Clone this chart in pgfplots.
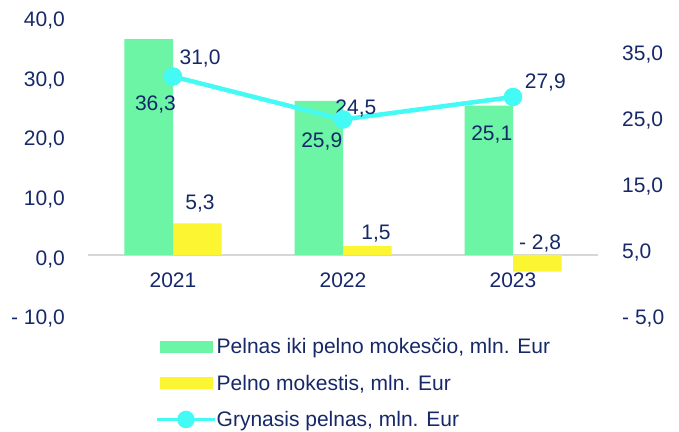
\documentclass[border=0pt]{standalone}
\usepackage{fontspec}
\setmainfont{Liberation Sans}
\usepackage{pgfplots}
\pgfplotsset{compat=1.18}
\definecolor{navyc}{RGB}{22,40,104}
\definecolor{greenc}{RGB}{107,245,164}
\definecolor{yellowc}{RGB}{251,245,50}
\definecolor{cyanc}{RGB}{68,250,245}
\definecolor{zeroc}{RGB}{215,215,215}
\begin{document}
\begin{tikzpicture}[text=navyc, font=\fontsize{21bp}{25bp}\selectfont]
\useasboundingbox (-88bp,-117.5bp) rectangle (591bp,314.5bp);
\pgfplotsset{
  base/.style={
    scale only axis, width=510bp, height=297.5bp,
    xmin=-0.5, xmax=2.5,
    font=\fontsize{21bp}{25bp}\selectfont,
    major tick length=0pt,
    axis line style={draw=none},
    clip=false,
  },
}
\begin{axis}[base,
  ymin=-10, ymax=40,
  ytick={-10,0,10,20,30,40},
  yticklabels={{- 10,0},{0,0},{10,0},{20,0},{30,0},{40,0}},
  yticklabel style={anchor=east, inner sep=0pt, text height=15bp, text depth=0pt, xshift=-23bp, yshift=-2.5bp},
  xtick={0,1,2},
  xticklabels={2021,2022,2023},
  xticklabel style={anchor=north, inner sep=0pt, text height=15bp, text depth=0pt, yshift=42bp},
  ybar=0pt, bar width=48.5bp,
]
\draw[zeroc, line width=1.6bp] (axis cs:-0.5,0) -- (axis cs:2.5,0);
\addplot[fill=greenc, draw=none] coordinates {(0,36.3) (1,25.9) (2,25.1)};
\addplot[fill=yellowc, draw=none] coordinates {(0,5.3) (1,1.5) (2,-2.8)};
\node[text height=15bp, text depth=0pt, inner sep=0pt] at (axis cs:-0.103,25.5) {36,3};
\node[text height=15bp, text depth=0pt, inner sep=0pt] at (axis cs:0.875,19.3) {25,9};
\node[text height=15bp, text depth=0pt, inner sep=0pt] at (axis cs:1.875,20.5) {25,1};
\node[text height=15bp, text depth=0pt, inner sep=0pt] at (axis cs:0.159,8.9) {5,3};
\node[text height=15bp, text depth=0pt, inner sep=0pt] at (axis cs:1.194,3.86) {1,5};
\node[text height=15bp, text depth=0pt, inner sep=0pt] at (axis cs:2.159,2.2) {- 2,8};
\end{axis}
\begin{axis}[base,
  ymin=-5, ymax=40,
  axis x line=none,
  axis y line*=right,
  ytick={-5,5,15,25,35},
  yticklabels={{- 5,0},{5,0},{15,0},{25,0},{35,0}},
  yticklabel style={anchor=west, inner sep=0pt, text height=15bp, text depth=0pt, xshift=24bp, yshift=-2.5bp},
  legend style={at={(rel axis cs:0.1314,-0.0773)}, anchor=north west, draw=none, fill=none,
    inner sep=0pt, row sep=19.5bp,
    nodes={inner sep=0pt, text height=16bp, text depth=1bp},
    font=\fontsize{21bp}{25bp}\selectfont,
    /tikz/every even column/.append style={column sep=3bp}},
  legend cell align=left,
]
\addlegendimage{legend image code/.code={\fill[greenc] (3bp,-5.5bp) rectangle (55bp,5.5bp);}}
\addlegendimage{legend image code/.code={\fill[yellowc] (3bp,-5.5bp) rectangle (55bp,5.5bp);}}
\addplot[cyanc, line width=4.5bp, mark=*, mark size=7bp,
  legend image code/.code={\draw[cyanc, line width=3.5bp] (0bp,0) -- (58bp,0); \fill[cyanc] (29bp,0) circle (6.5bp);}]
  coordinates {(0,31.0) (1,24.5) (2,27.9)};
\legend{Pelnas iki pelno mokesčio{,} mln. Eur, Pelno mokestis{,} mln. Eur, Grynasis pelnas{,} mln. Eur}
\node[text height=15bp, text depth=0pt, inner sep=0pt] at (axis cs:0.159,33.96) {31,0};
\node[text height=15bp, text depth=0pt, inner sep=0pt] at (axis cs:1.076,26.4) {24,5};
\node[text height=15bp, text depth=0pt, inner sep=0pt] at (axis cs:2.19,30.3) {27,9};
\end{axis}
\end{tikzpicture}
\end{document}
